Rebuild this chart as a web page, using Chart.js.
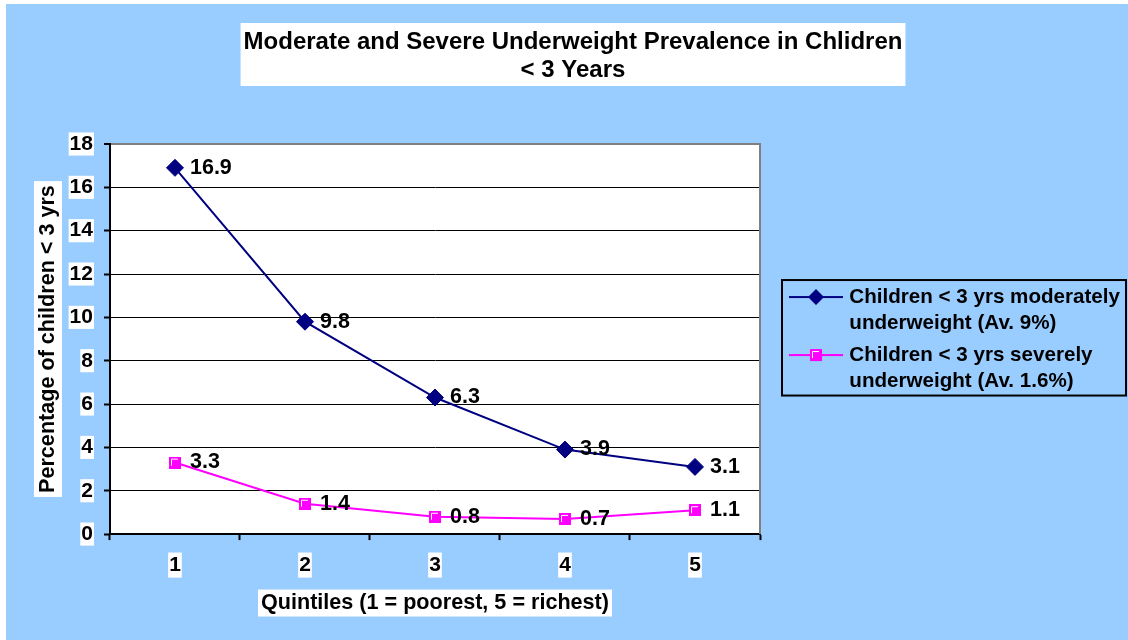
<!DOCTYPE html>
<html>
<head>
<meta charset="utf-8">
<script src="https://cdn.jsdelivr.net/npm/chart.js@4.4.0/dist/chart.umd.min.js"></script>
<style>
  body { margin: 0; background: #fff; }
  #wrap { position: absolute; left: 6px; top: 4px; width: 1122px; height: 636px; background: #99ccff; }
</style>
</head>
<body>
<div id="wrap"><canvas id="chart" width="1122" height="636"></canvas></div>
<script>
const quintiles = ['1', '2', '3', '4', '5'];
const moderate = [16.9, 9.8, 6.3, 3.9, 3.1];
const severe = [3.3, 1.4, 0.8, 0.7, 1.1];
const seriesNames = [
  ['Children < 3 yrs moderately', 'underweight (Av. 9%)'],
  ['Children < 3 yrs severely', 'underweight (Av. 1.6%)']
];
const titleLines = ['Moderate and Severe Underweight Prevalence in Chlidren', '< 3 Years'];
const yTitle = 'Percentage of children < 3 yrs';
const xTitle = 'Quintiles (1 = poorest, 5 = richest)';

const FONT = '"Liberation Sans", Arial, sans-serif';
const NAVY = '#000080';
const PINK = '#ff00ff';

// excel style square marker, magenta with a little white corner
function squareMarker() {
  const c = document.createElement('canvas');
  c.width = 12; c.height = 12;
  const g = c.getContext('2d');
  g.fillStyle = PINK;
  g.fillRect(0, 0, 12, 12);
  g.strokeStyle = '#fff';
  g.lineWidth = 1;
  g.beginPath();
  g.moveTo(2.5, 9); g.lineTo(2.5, 2.5); g.lineTo(9, 2.5);
  g.stroke();
  return c;
}
const squareImg = squareMarker();

function legendMarker(color, drawMark) {
  const c = document.createElement('canvas');
  c.width = 82; c.height = 20;
  const g = c.getContext('2d');
  g.strokeStyle = color;
  g.lineWidth = 2;
  g.beginPath(); g.moveTo(28, 10); g.lineTo(82, 10); g.stroke();
  drawMark(g, 55, 10);
  return c;
}
const legendImgs = [
  legendMarker(NAVY, (g, x, y) => {
    g.fillStyle = NAVY;
    g.beginPath();
    g.moveTo(x, y - 8); g.lineTo(x + 8, y); g.lineTo(x, y + 8); g.lineTo(x - 8, y);
    g.closePath(); g.fill();
  }),
  legendMarker(PINK, (g, x, y) => g.drawImage(squareImg, x - 6, y - 6))
];

const Y_TITLE_PAD = {top: 17, bottom: -2.3};
const X_TITLE_PAD = {top: 0, bottom: 24};
const AXIS_TITLE_SIZE = 21.6;
const LEGEND_SIZE = 20.6;
const LEGEND_LH = 26.5;

// white boxes behind plot area and titles
const backdrops = {
  id: 'backdrops',
  beforeDraw(chart) {
    const {ctx, chartArea: a, scales: {x, y}} = chart;
    ctx.save();
    ctx.fillStyle = '#fff';
    ctx.fillRect(a.left, a.top, a.right - a.left, a.bottom - a.top);

    const tb = chart.titleBlock;
    ctx.font = 'bold 24px ' + FONT;
    const tw = Math.max(...titleLines.map(t => ctx.measureText(t).width));
    const tcx = (tb.left + tb.right) / 2;
    const t1 = tb.top + 24 + 14;
    ctx.fillRect(tcx - tw / 2 - 3, t1 - 19, tw + 6, 63);

    const half = AXIS_TITLE_SIZE * 1.2 / 2;
    ctx.font = 'bold ' + AXIS_TITLE_SIZE + 'px ' + FONT;
    const yw = ctx.measureText(yTitle).width;
    const ycx = y.left + Y_TITLE_PAD.top + half;
    ctx.fillRect(ycx - 14, (y.top + y.bottom) / 2 - yw / 2 - 4, 28, yw + 8);
    const xw = ctx.measureText(xTitle).width;
    const xcy = x.bottom - X_TITLE_PAD.bottom - half;
    ctx.fillRect((x.left + x.right) / 2 - xw / 2 - 3, xcy - 13.5, xw + 6, 27);
    ctx.restore();
  },
  beforeDatasetsDraw(chart) {
    const {ctx, chartArea: a} = chart;
    ctx.save();
    ctx.strokeStyle = '#808080';
    ctx.lineWidth = 2;
    ctx.beginPath();
    ctx.moveTo(a.right, a.top - 1);
    ctx.lineTo(a.right, a.bottom);
    ctx.stroke();
    ctx.restore();
  },
  afterDatasetsDraw(chart) {
    const ctx = chart.ctx;
    ctx.save();
    ctx.font = 'bold 21.5px ' + FONT;
    ctx.fillStyle = '#000';
    ctx.textAlign = 'left';
    ctx.textBaseline = 'middle';
    chart.data.datasets.forEach((ds, i) => {
      chart.getDatasetMeta(i).data.forEach((pt, j) => {
        ctx.fillText(String(ds.data[j]), pt.x + 15, pt.y);
      });
    });
    ctx.restore();
  },
  afterDraw(chart) {
    const lg = chart.legend;
    const hb = lg.legendHitBoxes;
    if (!hb || !hb.length) return;
    const ctx = chart.ctx;
    const last = hb[hb.length - 1];
    const firstLine = hb[0].top + LEGEND_SIZE / 2;
    const lastLine = last.top + LEGEND_SIZE / 2 + LEGEND_LH;
    ctx.save();
    ctx.strokeStyle = '#000';
    ctx.lineWidth = 2;
    ctx.strokeRect(lg.left + 22, firstLine - 17, 344, lastLine + 14 - (firstLine - 17));
    ctx.restore();
  }
};

const tickFont = {family: FONT, size: 21, weight: 'bold', lineHeight: 1.1};
const titleFont = {family: FONT, size: AXIS_TITLE_SIZE, weight: 'bold'};

new Chart(document.getElementById('chart'), {
  type: 'line',
  data: {
    labels: quintiles,
    datasets: [
      {
        label: 'moderate',
        data: moderate,
        borderColor: NAVY,
        backgroundColor: NAVY,
        borderWidth: 2,
        pointStyle: 'rectRot',
        pointRadius: 8.5,
        pointHoverRadius: 8.5,
        pointBorderWidth: 1,
        pointBackgroundColor: NAVY,
        pointBorderColor: NAVY
      },
      {
        label: 'severe',
        data: severe,
        borderColor: PINK,
        backgroundColor: PINK,
        borderWidth: 2,
        pointStyle: squareImg,
        pointRadius: 6,
        pointHoverRadius: 6
      }
    ]
  },
  options: {
    responsive: false,
    animation: false,
    layout: {padding: {left: 12, right: 0, top: 0, bottom: 0}},
    plugins: {
      title: {
        display: true,
        text: titleLines,
        color: '#000',
        font: {family: FONT, size: 24, weight: 'bold', lineHeight: 28 / 24},
        padding: {top: 24, bottom: 60}
      },
      legend: {
        position: 'right',
        fullSize: false,
        maxWidth: 368,
        title: {display: true, text: ' ', font: {size: 2, lineHeight: 1}, padding: {top: 4.4, bottom: 0}},
        labels: {
          usePointStyle: true,
          pointStyleWidth: 74,
          padding: 5,
          color: '#000',
          font: {family: FONT, size: LEGEND_SIZE, weight: 'bold', lineHeight: LEGEND_LH / LEGEND_SIZE},
          generateLabels(chart) {
            const items = Chart.defaults.plugins.legend.labels.generateLabels(chart);
            items.forEach((it, i) => {
              it.text = seriesNames[i];
              it.pointStyle = legendImgs[i];
            });
            return items;
          }
        }
      },
      tooltip: {enabled: false}
    },
    scales: {
      x: {
        offset: true,
        grid: {offset: true, drawOnChartArea: false, drawTicks: true, tickLength: 6, tickColor: '#000', tickWidth: 2},
        border: {color: '#000', width: 2},
        ticks: {
          color: '#000', font: tickFont, padding: 13.45, maxRotation: 0,
          showLabelBackdrop: true, backdropColor: '#fff', backdropPadding: {x: 1, y: 1}
        },
        title: {display: true, text: xTitle, color: '#000', font: titleFont, padding: X_TITLE_PAD}
      },
      y: {
        min: 0,
        max: 18,
        grid: {
          color: c => (c.tick && c.tick.value === 18) ? '#808080' : '#000',
          lineWidth: c => (c.tick && c.tick.value === 18) ? 2 : 1,
          drawTicks: true, tickLength: 6, tickColor: '#000', tickWidth: 2
        },
        border: {color: '#000', width: 2},
        ticks: {
          stepSize: 2, color: '#000', font: tickFont, padding: 11,
          showLabelBackdrop: true, backdropColor: '#fff', backdropPadding: {x: 1, y: 0}
        },
        title: {display: true, text: yTitle, color: '#000', font: titleFont, padding: Y_TITLE_PAD}
      }
    }
  },
  plugins: [backdrops]
});
</script>
</body>
</html>
